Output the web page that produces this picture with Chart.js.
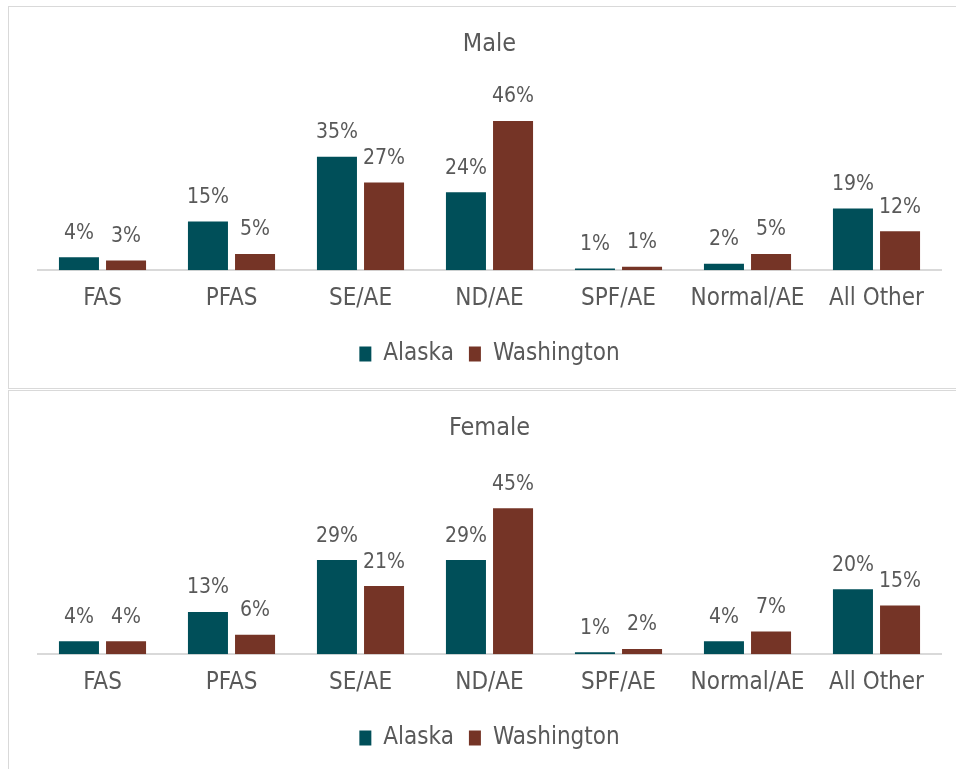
<!DOCTYPE html>
<html>
<head>
<meta charset="utf-8">
<script src="https://cdn.jsdelivr.net/npm/chart.js@4.4.1/dist/chart.umd.min.js"></script>
<style>
  body { margin: 0; background: #fff; width: 956px; height: 769px; overflow: hidden; position: relative; }
  .box { position: absolute; left: 8px; width: 960px; border: 1.5px solid #d9d9d9; border-right: none; background: #fff; }
  #boxMale { top: 6px; height: 381px; }
  #boxFemale { top: 390px; height: 390px; }
  canvas { display: block; }
</style>
</head>
<body>
<div class="box" id="boxMale"><canvas id="male" width="948" height="381"></canvas></div>
<div class="box" id="boxFemale"><canvas id="female" width="948" height="381"></canvas></div>
<script>
const categories = ['FAS', 'PFAS', 'SE/AE', 'ND/AE', 'SPF/AE', 'Normal/AE', 'All Other'];
const seriesNames = ['Alaska', 'Washington'];
const maleAlaska = [4, 15, 35, 24, 0.5, 2, 19];
const maleWashington = [3, 5, 27, 46, 1.1, 5, 12];
const femaleAlaska = [4, 13, 29, 29, 0.6, 4, 20];
const femaleWashington = [4, 6, 21, 45, 1.6, 7, 15];

const FONT = "'DejaVu Sans Condensed', 'DejaVu Sans', sans-serif";
const GREY = '#595959';
const colors = ['#004f59', '#753426'];

// percent labels above each bar
const barLabels = {
  id: 'barLabels',
  afterDatasetsDraw(chart){
    const ctx = chart.ctx;
    ctx.save();
    ctx.font = '21px ' + FONT;
    ctx.fillStyle = GREY;
    ctx.textAlign = 'center';
    ctx.textBaseline = 'middle';
    chart.data.datasets.forEach((ds, i) => {
      chart.getDatasetMeta(i).data.forEach((bar, j) => {
        ctx.fillText(Math.round(ds.data[j]) + '%', bar.x, bar.y - 24);
      });
    });
    ctx.restore();
  }
};

function makeChart(id, title, a, w){
  new Chart(document.getElementById(id), {
    type: 'bar',
    data: {
      labels: categories,
      datasets: [
        { label: seriesNames[0], data: a, backgroundColor: colors[0] },
        { label: seriesNames[1], data: w, backgroundColor: colors[1] }
      ]
    },
    options: {
      responsive: false, animation: false,
      categoryPercentage: 0.73, barPercentage: 0.85,
      layout: { padding: { left: 29, right: 16, top: 0, bottom: 12 } },
      scales: {
        x: {
          grid: { display: false, drawTicks: false },
          border: { display: true, color: '#d9d9d9', width: 2 },
          ticks: { color: GREY, font: { family: FONT, size: 24 }, padding: 14, maxRotation: 0, autoSkip: false }
        },
        y: { display: false, min: 0, max: 50 }
      },
      plugins: {
        title: { display: true, text: title, color: GREY, font: { family: FONT, size: 25, weight: 'normal' }, padding: { top: 22, bottom: 49 } },
        legend: {
          position: 'bottom',
          labels: { color: GREY, font: { family: FONT, size: 24 }, boxWidth: 12, boxHeight: 15, padding: 15 }
        },
        tooltip: { enabled: false }
      }
    },
    plugins: [barLabels]
  });
}

makeChart('male', 'Male', maleAlaska, maleWashington);
makeChart('female', 'Female', femaleAlaska, femaleWashington);
</script>
</body>
</html>
